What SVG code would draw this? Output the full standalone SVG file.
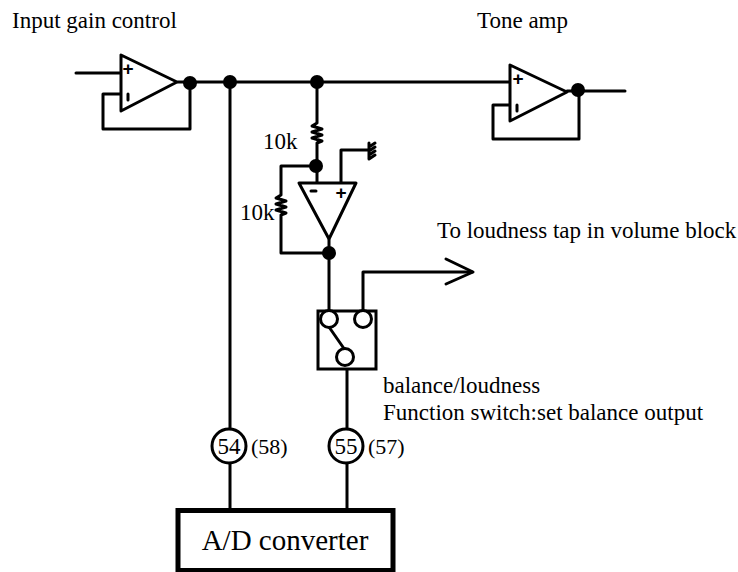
<svg xmlns="http://www.w3.org/2000/svg" width="738" height="572" viewBox="0 0 738 572">
<style>
.w{fill:none;stroke:#000;stroke-width:3;stroke-linejoin:round;stroke-linecap:round}
.b{fill:#fff;stroke:#000;stroke-width:3;stroke-linejoin:round}
.c{fill:#fff;stroke:#000;stroke-width:3}
.d{fill:#000}
.t{font-family:"Liberation Serif",serif;font-size:23px;fill:#000}
.s{font-family:"Liberation Sans",sans-serif;font-size:19px;font-weight:bold;fill:#000;text-anchor:middle}
</style>
<rect width="738" height="572" fill="#fff"/>
<g id="connectors">
<path class="w" d="M76 73H121"/>
<path class="w" d="M121 94H103V129H190V83"/>
<path class="w" d="M178 82H510"/>
<path class="w" d="M230 83V429"/>
<path class="w" d="M230 464V510"/>
<path class="w" d="M347 369V429"/>
<path class="w" d="M347 464V510"/>
<path class="w" d="M317 83V123l-5 3 10 3-10 3 10 3-10 3 10 3-5 2V166"/>
<path class="w" d="M317 166V183"/>
<path class="w" d="M317 166H281V195l-5 3 10 3-10 3 10 3-10 3 10 3-5 2V253H329"/>
<path class="w" d="M341 183V150H368"/>
<path class="w" d="M369 143V159M369 147l6-4M369 151l6-4M369 155l6-4M369 159l6-4"/>
<path class="w" d="M329 240V311"/>
<path class="w" d="M363 311V272H472"/>
<path class="w" d="M446 259L473 272L446 284"/>
<path class="w" d="M510 105H493V139H579V90"/>
<path class="w" d="M567 91H625"/>
</g>
<g id="opamp-input">
<path class="b" d="M121 55V111L177 82Z"/>
<text class="s" x="128" y="75">+</text>
<path class="w" d="M128 94V100"/>
</g>
<g id="opamp-tone">
<path class="b" d="M510 65V121L567 92Z"/>
<text class="s" x="518" y="85">+</text>
<path class="w" d="M517 105V111"/>
</g>
<g id="opamp-feedback">
<path class="b" d="M299 183H356L329 239Z"/>
<path class="w" d="M311 191H316"/>
<text class="s" x="341" y="199">+</text>
</g>
<g id="junctions">
<circle class="d" cx="190" cy="83" r="7"/>
<circle class="d" cx="230" cy="82" r="7"/>
<circle class="d" cx="317" cy="82" r="7"/>
<circle class="d" cx="578" cy="90" r="7"/>
<circle class="d" cx="316" cy="166" r="7"/>
<circle class="d" cx="329" cy="253" r="7"/>
</g>
<g id="switch">
<rect x="318" y="311" width="58" height="58" fill="#fff" stroke="#000" stroke-width="3"/>
<path class="w" d="M329 327L345 350"/>
<circle class="c" cx="329" cy="319" r="8.5"/>
<circle class="c" cx="363" cy="319" r="8.5"/>
<circle class="c" cx="345" cy="357" r="8.5"/>
</g>
<g id="pin-54">
<circle class="c" cx="229" cy="446" r="17"/>
<text class="t" x="229" y="454" text-anchor="middle">54</text>
</g>
<g id="pin-55">
<circle class="c" cx="346" cy="446" r="17"/>
<text class="t" x="346" y="454" text-anchor="middle">55</text>
</g>
<g id="adc">
<rect x="178" y="510.500" width="215" height="60" fill="#fff" stroke="#000" stroke-width="5"/>
<text x="285" y="550" text-anchor="middle" style="font-family:'Liberation Serif',serif;font-size:29px">A/D converter</text>
</g>
<g id="labels">
<text class="t" x="12" y="28">Input gain control</text>
<text class="t" x="477" y="28">Tone amp</text>
<text class="t" x="263" y="149">10k</text>
<text class="t" x="240" y="220">10k</text>
<text class="t" x="437" y="238">To loudness tap in volume block</text>
<text class="t" x="383" y="393">balance/loudness</text>
<text class="t" x="383" y="420">Function switch:set balance output</text>
<text class="t" x="251" y="454" style="font-size:22px">(58)</text>
<text class="t" x="368" y="454" style="font-size:22px">(57)</text>
</g>
</svg>
